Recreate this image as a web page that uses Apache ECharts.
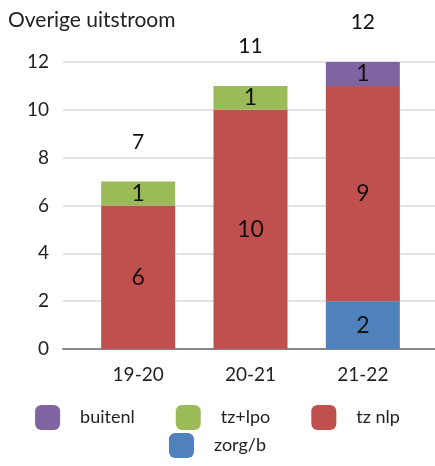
<!DOCTYPE html>
<html><head><meta charset="utf-8">
<script src="https://cdn.jsdelivr.net/npm/echarts@6/dist/echarts.min.js"></script>
<style>html,body{margin:0;padding:0;background:#fff}#c{width:435px;height:466px}</style>
</head><body><div id="c"></div>
<script>
const categories = ['19-20', '20-21', '21-22'];
const zorgB = [0, 0, 2];
const tzNlp = [6, 10, 9];
const tzLpo = [1, 1, 0];
const buitenl = [0, 0, 1];
const totals = [7, 11, 12];
const yTicks = [0, 2, 4, 6, 8, 10, 12];

const font = 'Lato, "Open Sans", sans-serif';
const inner = {show: true, position: 'inside', color: '#111', fontSize: 23, fontFamily: font,
  formatter: p => (p.value ? String(p.value) : '')};
const barCommon = {type: 'bar', stack: 'tot', xAxisIndex: 1, yAxisIndex: 1, barWidth: 74, label: inner};

const chart = echarts.init(document.getElementById('c'), null, {renderer: 'canvas'});
chart.setOption({
  animation: false,
  title: {text: 'Overige uitstroom', left: 3, top: 5, textStyle: {fontFamily: font, fontSize: 21, fontWeight: 'normal', color: '#222'}},
  grid: [
    {left: 63, right: 0, top: 62, bottom: 117},
    {left: 82, right: 16, top: 62, bottom: 117}
  ],
  legend: [
    {data: ['buitenl', 'tz+lpo', 'tz nlp'], left: 'center', top: 400, itemWidth: 25, itemHeight: 25, itemGap: 41,
     textStyle: {fontFamily: font, fontSize: 18, color: '#222', padding: [0, 0, 0, 15]}, icon: 'roundRect'},
    {data: ['zorg/b'], left: 'center', top: 428, itemWidth: 25, itemHeight: 25,
     textStyle: {fontFamily: font, fontSize: 18, color: '#222', padding: [0, 0, 0, 15]}, icon: 'roundRect'}
  ],
  xAxis: [
    {type: 'category', gridIndex: 0, data: categories, axisLabel: {show: false}, axisTick: {show: false},
     axisLine: {lineStyle: {color: '#888', width: 2}}},
    {type: 'category', gridIndex: 1, data: categories, axisTick: {show: false}, axisLine: {show: false},
     axisLabel: {fontFamily: font, fontSize: 19, color: '#222', margin: 16}}
  ],
  yAxis: [
    {type: 'value', gridIndex: 0, min: 0, max: 12, interval: 2,
     axisLabel: {fontFamily: font, fontSize: 19, color: '#222', margin: 14, formatter: v => (yTicks.includes(v) ? String(v) : '')},
     splitLine: {lineStyle: {color: '#d9d9d9', width: 1.5}}, axisLine: {show: false}, axisTick: {show: false}},
    {type: 'value', gridIndex: 1, min: 0, max: 12, interval: 2, show: false}
  ],
  series: [
    Object.assign({}, barCommon, {name: 'zorg/b', data: zorgB, itemStyle: {color: '#4f81bd'}}),
    Object.assign({}, barCommon, {name: 'tz nlp', data: tzNlp, itemStyle: {color: '#c0504d'}}),
    Object.assign({}, barCommon, {name: 'tz+lpo', data: tzLpo, itemStyle: {color: '#9bbb59'}}),
    Object.assign({}, barCommon, {name: 'buitenl', data: buitenl, itemStyle: {color: '#8064a2'}}),
    {name: 'totaal', type: 'scatter', xAxisIndex: 1, yAxisIndex: 1, data: totals, symbolSize: 2,
     itemStyle: {color: 'rgba(255,255,255,0)'}, z: 10, silent: true,
     label: {show: true, position: 'top', distance: 28, color: '#111', fontSize: 21, fontFamily: font, opacity: 1,
       formatter: p => String(p.value)}}
  ]
});
</script></body></html>
